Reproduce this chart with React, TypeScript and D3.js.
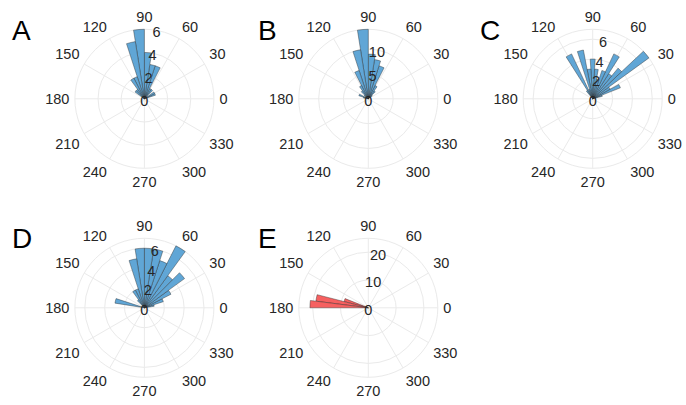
import React from 'react';
import * as d3 from 'd3';

// angular bins: start angle (deg, counter-clockwise from east) and count
const aBinStart = [18, 27, 45, 54, 63, 72, 81, 90, 99, 108, 117, 126, 135];
const aCounts = [1, 1, 1, 1, 3, 3, 4, 6, 5, 2, 2, 1, 1];

const bBinStart = [36, 45, 54, 63, 72, 81, 90, 99, 108, 117, 126, 135, 153, 162];
const bCounts = [1, 2, 3, 7, 8, 9, 14, 10, 6, 3, 2, 1, 2, 1];

const cBinStart = [14.4, 21.6, 28.8, 36, 43.2, 50.4, 57.6, 64.8, 72, 79.2, 86.4, 93.6, 100.8, 108, 115.2, 122.4];
const cCounts = [1, 3, 2, 7, 4, 3, 5, 3, 2, 3, 4, 3, 5, 1, 5, 1];

const dBinStart = [9, 18, 27, 36, 45, 54, 63, 72, 81, 90, 99, 108, 117, 126, 162];
const dCounts = [1, 2, 3, 5, 4, 7, 5, 6, 6, 6, 5, 2, 2, 1, 3];

const eBinStart = [151.2, 158.4, 165.6, 172.8];
const eCounts = [1, 9, 19, 21];

const panelLetters = ['A', 'B', 'C', 'D', 'E'];
const binWidths = [9, 9, 7.2, 9, 7.2];
const rLimits = [6, 14, 7, 7, 25];
const rTickSets = [[0, 2, 4, 6], [0, 5, 10], [0, 2, 4, 6], [0, 2, 4, 6], [0, 10, 20]];
const thetaTicks = d3.range(0, 360, 30);

const W = 686;
const H = 405;
const RADIUS = 69.5;
const FONT = '"Liberation Sans", Arial, Helvetica, sans-serif';
const BLUE = 'rgb(96,166,214)';
const RED = 'rgb(246,96,96)';
const GRID = '#eaeaea';

const panels = [
  { starts: aBinStart, counts: aCounts, cx: 144.4, cy: 98.8, lx: 12, ly: 40, fill: BLUE },
  { starts: bBinStart, counts: bCounts, cx: 368.3, cy: 98.8, lx: 258, ly: 40, fill: BLUE },
  { starts: cBinStart, counts: cCounts, cx: 592.7, cy: 98.8, lx: 480, ly: 40, fill: BLUE },
  { starts: dBinStart, counts: dCounts, cx: 144.4, cy: 307.8, lx: 12, ly: 248, fill: BLUE },
  { starts: eBinStart, counts: eCounts, cx: 368.3, cy: 307.8, lx: 258, ly: 248, fill: RED },
];

const rad = (d: number) => (d * Math.PI) / 180;

function PolarPanel({ idx }: { idx: number }) {
  const p = panels[idx];
  const width = binWidths[idx];
  const rMax = rLimits[idx];
  const rTicks = rTickSets[idx];
  const r = d3.scaleLinear().domain([0, rMax]).range([0, RADIUS]);
  const arc = d3.arc<any>();

  const rings = Array.from(new Set([...rTicks.filter(t => t > 0), rMax]));
  const labelR = RADIUS + 5.5;

  return (
    <g>
      <text x={p.lx} y={p.ly} fontFamily={FONT} fontSize={28} fill="#000">
        {panelLetters[idx]}
      </text>
      <g transform={`translate(${p.cx},${p.cy})`}>
        {rings.map(t => (
          <circle key={'c' + t} r={r(t)} fill="none" stroke={GRID} strokeWidth={1} />
        ))}
        {thetaTicks.map(a => (
          <line key={'s' + a} x1={0} y1={0} x2={RADIUS * Math.cos(rad(a))} y2={-RADIUS * Math.sin(rad(a))}
            stroke={GRID} strokeWidth={1} />
        ))}
        {p.starts.map((s, i) => (
          <path key={'b' + i}
            d={arc({ innerRadius: 0, outerRadius: r(p.counts[i]), startAngle: rad(90 - s - width), endAngle: rad(90 - s) }) || ''}
            fill={p.fill} stroke="#262626" strokeWidth={0.5} strokeOpacity={0.8} />
        ))}
        {thetaTicks.map(a => {
          const ca = Math.cos(rad(a));
          const sa = Math.sin(rad(a));
          const x = labelR * ca;
          const y = -labelR * sa;
          const anchor = ca > 0.01 ? 'start' : ca < -0.01 ? 'end' : 'middle';
          const by = sa > 0.01 ? y - 2 : sa < -0.01 ? y + 13 : y + 5;
          return (
            <text key={'t' + a} x={x} y={by} textAnchor={anchor} fontFamily={FONT} fontSize={14.5} fill="#262626">
              {a}
            </text>
          );
        })}
        {rTicks.map(t => {
          const d = r(t);
          const x = d * Math.cos(rad(80));
          const y = -d * Math.sin(rad(80)) + 2 + 5;
          return (
            <text key={'r' + t} x={x} y={y} textAnchor="middle" fontFamily={FONT} fontSize={14.5} fill="#262626">
              {t}
            </text>
          );
        })}
      </g>
    </g>
  );
}

export default function App() {
  return (
    <div style={{ position: 'absolute', left: 0, top: 0, width: W, height: H, background: '#fff' }}>
      <svg width={W} height={H} style={{ display: 'block' }}>
        <rect width={W} height={H} fill="#fff" />
        {panels.map((_, i) => (
          <PolarPanel key={i} idx={i} />
        ))}
      </svg>
    </div>
  );
}
